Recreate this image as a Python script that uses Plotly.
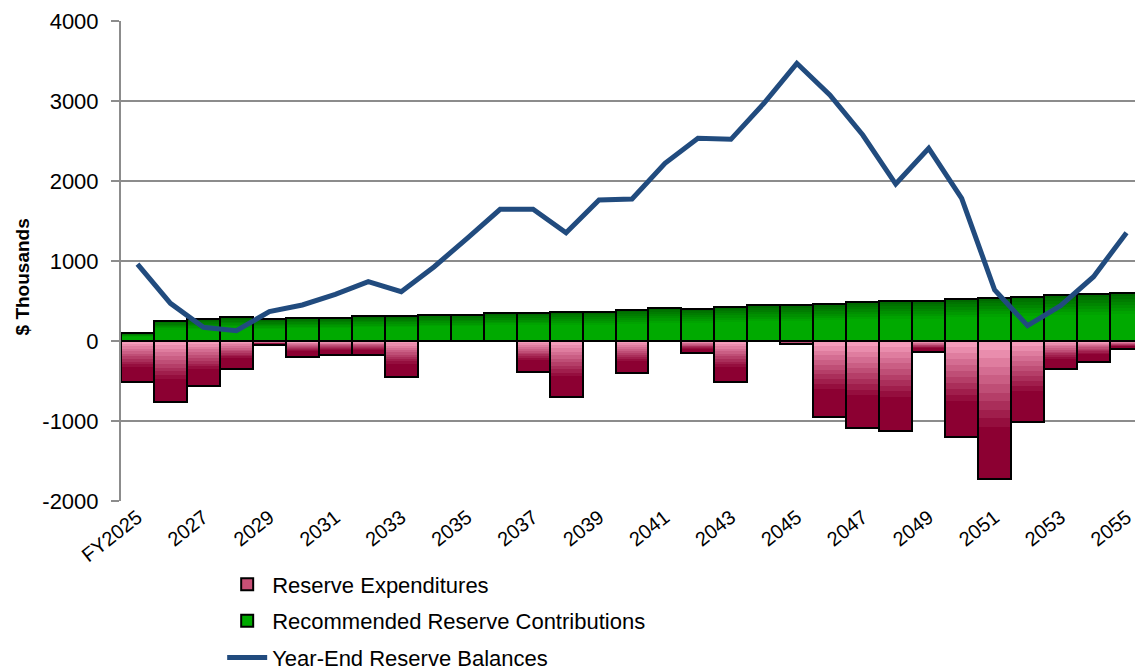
import plotly.graph_objects as go

years = ["FY2025"] + [str(y) for y in range(2026, 2056)]
tick_years = years[::2]
y_tick_vals = [-2000, -1000, 0, 1000, 2000, 3000, 4000]
y_tick_text = ["-2000", "-1000", "0", "1000", "2000", "3000", "4000"]

expenditures = [-515, -760, -565, -344, -54, -206, -173, -173, -452, 0,
                0, 0, -385, -702, 0, -406, 0, -154, -515, 0,
                -40, -950, -1083, -1121, -142, -1196, -1721, -1008, -354, -258,
                -100]
contributions = [100, 252, 269, 294, 269, 290, 290, 310, 310, 327,
                 327, 352, 352, 365, 365, 385, 410, 402, 427, 444,
                 444, 458, 485, 498, 498, 523, 540, 556, 573, 583,
                 604]
balances = [962, 471, 171, 129, 367, 450, 583, 742, 617, 929,
            1283, 1646, 1646, 1354, 1762, 1775, 2221, 2533, 2521, 2971,
            3471, 3075, 2575, 1962, 2408, 1783, 637, 192, 442, 804,
            1354]


def lerp(c1, c2, t):
    t = max(0.0, min(1.0, t))
    return "rgb(%d,%d,%d)" % tuple(round(a + (b - a) * t) for a, b in zip(c1, c2))


PINK = (249, 165, 194)
DARK = (140, 0, 50)
GREEN = (0, 170, 0)
DGREEN = (0, 100, 0)

fig = go.Figure()

# legend/base traces
fig.add_trace(go.Bar(x=years, y=expenditures, name="Reserve Expenditures",
                     legendgroup="exp",
                     marker=dict(color="rgb(200,80,118)", line=dict(color="black", width=2)),
                     hoverinfo="x+y"))
fig.add_trace(go.Bar(x=years, y=contributions, name="Recommended Reserve Contributions",
                     legendgroup="con",
                     marker=dict(color="rgb(0,170,0)", line=dict(color="black", width=2)),
                     hoverinfo="x+y"))

# gradient layers (depth fraction from zero line)
steps = 16
for i in range(steps):
    f = 1 - i / steps
    tmid = f - 0.5 / steps
    ecol = lerp(PINK, DARK, tmid / 0.65)
    gcol = lerp(GREEN, DGREEN, (tmid - 0.55) / 0.45)
    fig.add_trace(go.Bar(x=years, y=[v * f for v in expenditures], showlegend=False,
                         legendgroup="exp",
                         marker=dict(color=ecol, line=dict(width=0)), hoverinfo="skip"))
    fig.add_trace(go.Bar(x=years, y=[v * f for v in contributions], showlegend=False,
                         legendgroup="con",
                         marker=dict(color=gcol, line=dict(width=0)), hoverinfo="skip"))

# outlines
for vals, grp in ((expenditures, "exp"), (contributions, "con")):
    fig.add_trace(go.Bar(x=years, y=vals, showlegend=False, legendgroup=grp,
                         marker=dict(color="rgba(0,0,0,0)", line=dict(color="black", width=2)),
                         hoverinfo="skip"))

fig.add_trace(go.Scatter(x=years, y=balances, mode="lines", name="Year-End Reserve Balances",
                         legendgroup="bal",
                         line=dict(color="#214B7E", width=5)))

fig.update_layout(
    width=1135, height=662,
    barmode="overlay", bargap=0,
    plot_bgcolor="white", paper_bgcolor="white",
    margin=dict(l=113, r=0, t=13, b=169, autoexpand=False),
    font=dict(family="Liberation Sans, Arial, sans-serif", color="black", size=21),
    legend=dict(orientation="v", x=0.099, xanchor="left", y=-0.13, yanchor="top",
                font=dict(size=22), traceorder="grouped", bgcolor="rgba(0,0,0,0)",
                tracegroupgap=5, itemwidth=40),
)
fig.update_yaxes(range=[-2000, 4000], tickmode="array", tickvals=y_tick_vals,
                 ticktext=y_tick_text, showgrid=True, gridcolor="#8C8C8C",
                 gridwidth=2, zeroline=True, zerolinecolor="#8C8C8C", zerolinewidth=2,
                 showline=True, linecolor="#8C8C8C", linewidth=2,
                 ticks="outside", ticklen=8, tickcolor="#8C8C8C", tickwidth=2,
                 ticklabelstandoff=8, tickfont=dict(size=22),
                 title=dict(text="<b>$ Thousands</b>" + "&nbsp;" * 6,
                            font=dict(size=19), standoff=8))
fig.update_xaxes(type="category", tickmode="array", tickvals=tick_years, ticktext=tick_years,
                 tickangle=-38, tickfont=dict(size=20), showgrid=False, showline=False,
                 ticks="")

fig.write_html("out.html")
